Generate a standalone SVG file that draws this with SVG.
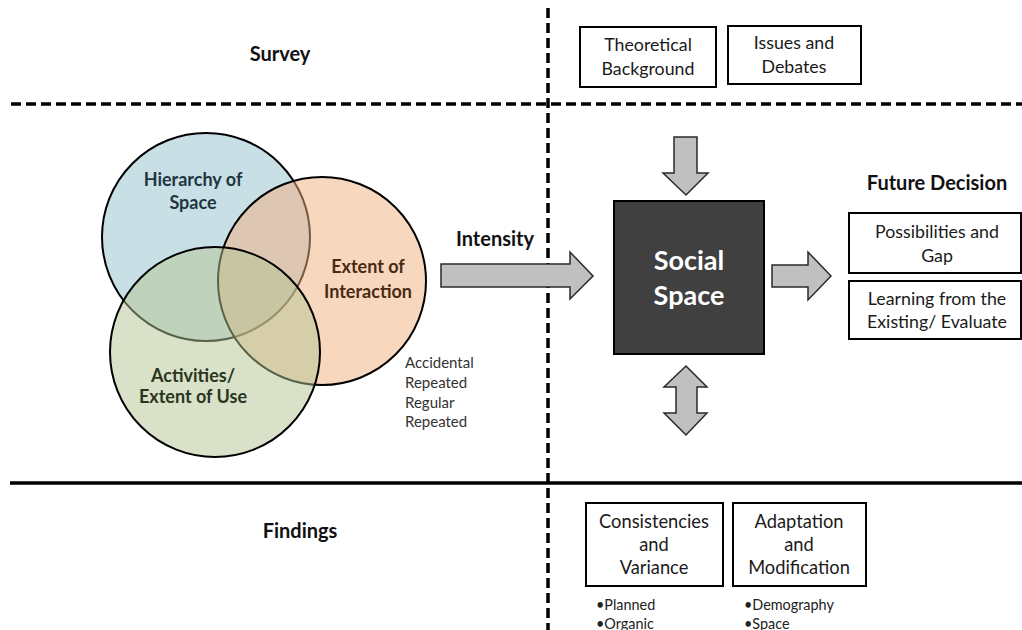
<svg xmlns="http://www.w3.org/2000/svg" width="1022" height="630" viewBox="0 0 1022 630">
  <style>
    .head { font-family: Lato, "Liberation Sans", sans-serif; font-weight: bold; font-size: 20px; fill: #111; text-anchor: middle; }
    .box { fill: #fff; stroke: #000; stroke-width: 2; }
    .boxtxt { font-family: Lato, "Liberation Sans", sans-serif; font-size: 17.8px; fill: #1a1a1a; text-anchor: middle; }
    .boxtxt2 { font-family: Lato, "Liberation Sans", sans-serif; font-size: 18.3px; fill: #1a1a1a; text-anchor: middle; }
    .small { font-family: Lato, "Liberation Sans", sans-serif; font-size: 15px; fill: #333; }
    .tiny { font-family: Lato, "Liberation Sans", sans-serif; font-size: 14.4px; fill: #222; }
    .venn { stroke: #000; stroke-width: 2; fill-opacity: 0.5; }
    .vtxt { font-family: Lato, "Liberation Sans", sans-serif; font-weight: bold; font-size: 18px; text-anchor: middle; }
    .arrow { fill: #c0c0c0; stroke: #2a2a2a; stroke-width: 1.5; stroke-linejoin: miter; }
    .dash { stroke: #000; stroke-width: 3.5; stroke-dasharray: 10 5; fill: none; }
  </style>
  <rect width="1022" height="630" fill="#fff"/>

  <!-- section dividers -->
  <g id="dividers">
    <line class="dash" x1="11" y1="104" x2="1022" y2="104"/>
    <line class="dash" x1="548" y1="8" x2="548" y2="630"/>
    <line x1="10" y1="483" x2="1022" y2="483" stroke="#000" stroke-width="3.5"/>
  </g>

  <!-- row headings -->
  <text class="head" x="280" y="61">Survey</text>
  <text class="head" x="300" y="538">Findings</text>

  <!-- overlapping circles -->
  <g id="venn">
    <circle class="venn" cx="206" cy="237" r="104" fill="#94bfcd"/>
    <circle class="venn" cx="322" cy="281" r="104" fill="#f1af7f"/>
    <circle class="venn" cx="215" cy="352" r="105" fill="#b3c592"/>
    <text class="vtxt" fill="#1f3540" x="193" y="186">Hierarchy of</text>
    <text class="vtxt" fill="#1f3540" x="193" y="209">Space</text>
    <text class="vtxt" fill="#4a2a12" x="368" y="273">Extent of</text>
    <text class="vtxt" fill="#4a2a12" x="368" y="298">Interaction</text>
    <text class="vtxt" fill="#2a3520" x="193" y="382">Activities/</text>
    <text class="vtxt" fill="#2a3520" x="193" y="403">Extent of Use</text>
  </g>

  <g id="interaction-types">
    <text class="small" x="405" y="368">Accidental</text>
    <text class="small" x="405" y="388">Repeated</text>
    <text class="small" x="405" y="408">Regular</text>
    <text class="small" x="405" y="427">Repeated</text>
  </g>

  <!-- top boxes -->
  <g id="theoretical-background">
    <rect class="box" x="580" y="27" width="136" height="60"/>
    <text class="boxtxt" x="648" y="51">Theoretical</text>
    <text class="boxtxt" x="648" y="75">Background</text>
  </g>
  <g id="issues-debates">
    <rect class="box" x="728" y="26" width="133" height="58"/>
    <text class="boxtxt" x="794" y="49">Issues and</text>
    <text class="boxtxt" x="794" y="73">Debates</text>
  </g>

  <!-- central node -->
  <g id="social-space">
    <rect x="614" y="201" width="150" height="153" fill="#404040" stroke="#000" stroke-width="2"/>
    <text x="689" y="270" font-family="Lato, 'Liberation Sans', sans-serif" font-weight="bold" font-size="27" fill="#fff" text-anchor="middle">Social</text>
    <text x="689" y="305" font-family="Lato, 'Liberation Sans', sans-serif" font-weight="bold" font-size="27" fill="#fff" text-anchor="middle">Space</text>
  </g>

  <!-- right side -->
  <text class="head" x="937" y="190">Future Decision</text>
  <g id="possibilities-gap">
    <rect class="box" x="849" y="213" width="172" height="60"/>
    <text class="boxtxt" x="937" y="238">Possibilities and</text>
    <text class="boxtxt" x="937" y="262">Gap</text>
  </g>
  <g id="learning-existing">
    <rect class="box" x="849" y="281" width="172" height="58"/>
    <text class="boxtxt" x="937" y="305">Learning from the</text>
    <text class="boxtxt" x="937" y="328">Existing/ Evaluate</text>
  </g>

  <!-- bottom boxes -->
  <g id="consistencies-variance">
    <rect class="box" x="586" y="503" width="137" height="83"/>
    <text class="boxtxt2" x="654" y="528">Consistencies</text>
    <text class="boxtxt2" x="654" y="551">and</text>
    <text class="boxtxt2" x="654" y="574">Variance</text>
  </g>
  <g id="adaptation-modification">
    <rect class="box" x="733" y="503" width="133" height="83"/>
    <text class="boxtxt2" x="799" y="528">Adaptation</text>
    <text class="boxtxt2" x="799" y="551">and</text>
    <text class="boxtxt2" x="799" y="574">Modification</text>
  </g>
  <g id="bullets">
    <text class="tiny" x="596" y="610">•Planned</text>
    <text class="tiny" x="596" y="629">•Organic</text>
    <text class="tiny" x="744" y="610">•Demography</text>
    <text class="tiny" x="744" y="629">•Space</text>
  </g>

  <!-- block arrows -->
  <g id="connectors">
    <text class="head" x="495" y="246">Intensity</text>
    <polygon class="arrow" points="441,264 570,264 570,252 593,276 570,299 570,287 441,287"/>
    <polygon class="arrow" points="674,137 697,137 697,173 708,173 686,195 663,173 674,173"/>
    <polygon class="arrow" points="772,265 808,265 808,252 831,276 808,300 808,287 772,287"/>
    <polygon class="arrow" points="686,366 707,387 697,387 697,413 707,413 686,435 664,413 676,413 676,387 664,387"/>
  </g>
</svg>
